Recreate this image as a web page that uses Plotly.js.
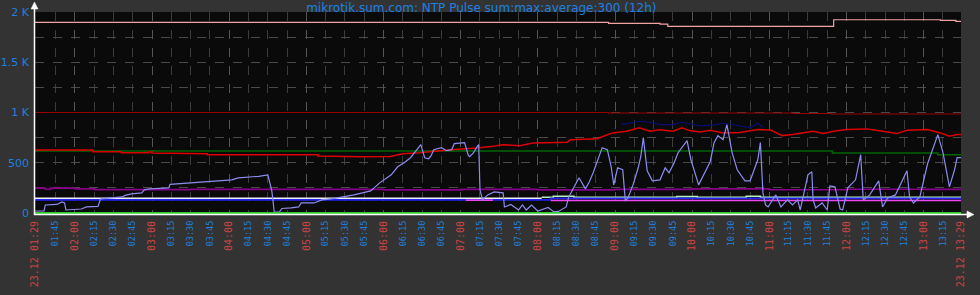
<!DOCTYPE html>
<html>
<head>
<meta charset="utf-8">
<script src="https://cdn.plot.ly/plotly-3.0.1.min.js"></script>
<style>html,body{margin:0;padding:0;background:#333333;}#chart{width:980px;height:295px;}</style>
</head>
<body>
<div id="chart"></div>
<script>
const day = "2023-12-23 ";

// ---- tick data ----
const quarterTicks = ["01:45","02:15","02:30","02:45","03:15","03:30","03:45","04:15","04:30","04:45","05:15","05:30","05:45","06:15","06:30","06:45","07:15","07:30","07:45","08:15","08:30","08:45","09:15","09:30","09:45","10:15","10:30","10:45","11:15","11:30","11:45","12:15","12:30","12:45","13:15"];
const hourTicks = ["01:29","02:00","03:00","04:00","05:00","06:00","07:00","08:00","09:00","10:00","11:00","12:00","13:00","13:29"];
const hourLabels = ["23.12 01:29","02:00","03:00","04:00","05:00","06:00","07:00","08:00","09:00","10:00","11:00","12:00","13:00","23.12 13:29"];
const yTicks = [0,250,500,750,1000,1250,1500,1750,2000];
const yLabels = ["0","","500","","1 K","","1.5 K","","2 K"];

// ---- series data ----
const pinkT = ["01:29","08:55","09:35","09:41","11:46","11:50","13:13","13:25","13:29"];
const pinkV = [1897,1887,1880,1857,1857,1923,1917,1907,1907];

const darkRedT = ["01:29","08:55","11:18","11:48","13:29"];
const darkRedV = [1000,995,990,985,985];

const navyT = ["09:05","09:12","09:19","09:27","09:35","09:45","09:52","10:06","10:16","10:24","10:37","10:45","10:51","10:55"];
const navyV = [880,897,913,903,880,880,903,867,875,893,870,850,893,850];

const redT = ["01:29","02:14","02:14","02:36","02:36","02:57","02:57","03:00","03:00","03:18","03:18","03:43","03:43","05:09","05:09","05:42","06:05","06:15","06:28","06:52","07:13","07:25","07:32","07:46","07:56","08:23","08:25","08:46","08:51","08:58","09:09","09:19","09:27","09:35","09:45","09:52","09:58","10:06","10:14","10:24","10:37","10:51","11:01","11:10","11:18","11:34","11:42","11:50","12:00","12:16","12:28","12:39","12:47","13:03","13:13","13:20","13:26","13:29"];
const redV = [627,627,610,610,600,600,608,608,597,597,590,590,580,580,567,560,563,590,600,630,647,663,680,670,697,703,730,740,763,797,813,847,813,829,813,847,820,805,823,797,800,830,825,770,780,813,790,813,830,837,813,790,823,830,797,763,780,780];

const greenT = ["01:29","11:49","13:11","13:29"];
const greenV = [617,597,580,580];

const purpleT = ["01:29","01:37","01:41","02:00","02:15","03:30","05:12","06:00","07:00","08:00","09:00","10:00","11:00","12:00","13:00","13:29"];
const purpleV = [247,237,247,240,233,235,235,230,235,230,235,240,232,236,235,232];

const whiteT = ["01:29","08:03"];
const whiteV = [147,147];

const lightGreenT = ["08:03","08:12","08:28","09:48","10:04","10:42","10:53","13:29"];
const lightGreenV = [157,167,157,163,157,167,157,157];

const blueT = ["01:29","08:10","13:29"];
const blueV = [130,145,145];

const magentaT = ["07:04","07:25","07:26","08:10","13:29"];
const magentaV = [127,127,null,125,125];

const pulseT = ["01:29","01:36","01:37","01:46","01:50","01:52","01:53","02:00","02:05","02:09","02:18","02:20","02:27","02:37","02:39","02:44","02:52","02:54","02:58","03:13","03:14","03:31","03:37","03:49","04:02","04:07","04:17","04:23","04:30","04:33","04:34","04:35","04:39","04:41","04:48","04:54","04:56","05:06","05:12","05:22","05:37","05:43","05:50","05:57","06:06","06:11","06:16","06:21","06:25","06:29","06:32","06:35","06:37","06:39","06:45","06:49","06:53","06:55","07:03","07:06","07:07","07:10","07:13","07:14","07:15","07:17","07:21","07:26","07:33","07:34","07:39","07:45","07:48","07:51","07:55","08:00","08:08","08:12","08:16","08:22","08:24","08:28","08:32","08:37","08:40","08:43","08:47","08:50","08:54","08:57","08:59","09:02","09:06","09:08","09:10","09:14","09:18","09:20","09:22","09:25","09:29","09:35","09:39","09:42","09:46","09:49","09:56","09:59","10:05","10:14","10:17","10:20","10:24","10:27","10:31","10:35","10:41","10:45","10:51","10:53","10:55","10:57","10:59","11:05","11:09","11:14","11:18","11:22","11:24","11:30","11:33","11:34","11:36","11:41","11:45","11:47","11:51","11:55","11:57","12:01","12:07","12:11","12:13","12:18","12:25","12:28","12:32","12:38","12:47","12:49","12:52","12:57","13:03","13:07","13:11","13:15","13:20","13:24","13:26","13:29"];
const pulseV = [20,20,80,85,110,100,30,35,40,60,65,140,150,160,175,190,200,230,240,250,285,300,310,320,330,350,360,365,380,230,130,10,10,45,50,60,100,100,130,145,180,200,220,300,380,460,500,550,620,680,550,540,570,630,650,620,630,690,700,570,560,600,665,680,230,130,180,210,200,60,85,30,80,30,80,20,55,15,15,60,160,260,350,240,310,400,550,650,630,460,280,450,430,120,150,280,450,560,750,420,320,330,450,400,500,600,720,530,280,510,700,770,730,880,600,430,320,320,530,700,200,80,60,180,60,130,80,130,30,380,410,130,50,100,30,270,260,40,30,250,330,580,130,180,320,60,150,180,420,160,100,160,490,630,780,600,260,430,550,550];

const zeroT = ["01:29","13:29"];
const zeroV = [0,0];

const titleText = "mikrotik.sum.com: NTP Pulse sum:max:average:300 (12h)";

// ---- build ----
const d = a => a.map(t => day + t);
function tr(t, v, color, width, shape, xa) {
  return {x: d(t), y: v, type: "scatter", mode: "lines", xaxis: xa || "x",
    line: {color: color, width: width, shape: shape || "linear"}, hoverinfo: "skip", connectgaps: false};
}
const traces = [
  tr(zeroT, zeroV, "#33cc33", 2, "hv", "x2"),
  tr(purpleT, purpleV, "#880088", 1.6, "hv"),
  tr(greenT, greenV, "#006600", 1.6, "hv"),
  tr(darkRedT, darkRedV, "#990000", 1.2, "hv"),
  tr(pinkT, pinkV, "#f2a2a2", 1.2, "hv"),
  tr(navyT, navyV, "#0c0c78", 1.2),
  tr(redT, redV, "#dd0000", 1.5),
  tr(whiteT, whiteV, "#eeeeee", 1.6, "hv"),
  tr(lightGreenT, lightGreenV, "#b8f0b8", 1.6, "hv"),
  tr(blueT, blueV, "#2222ee", 1.8, "hv"),
  tr(magentaT, magentaV, "#ee44ee", 1.6, "hv"),
  tr(pulseT, pulseV, "#8c8cf0", 1.2)
];

const PX0 = 35, PW = 926, PY0 = 12, PH = 202;
const px = x => (x - PX0) / PW;
const py = y => (PY0 + PH - y) / PH;
const range = [day + hourTicks[0], day + hourTicks[hourTicks.length - 1]];

const layout = {
  width: 980, height: 295,
  margin: {l: PX0, r: 980 - PX0 - PW, t: PY0, b: 295 - PY0 - PH, pad: 0},
  paper_bgcolor: "#333333", plot_bgcolor: "#0a0a0a",
  showlegend: false,
  title: {text: titleText, x: 0.482, xanchor: "center", xref: "paper", y: 0.974, yref: "container", yanchor: "middle",
    font: {family: "DejaVu Sans", size: 12, color: "#1e80e0"}},
  xaxis: {type: "date", range: range, tickvals: d(quarterTicks), ticktext: quarterTicks,
    tickangle: -90, ticks: "", ticklabelstandoff: 4,
    tickfont: {family: "DejaVu Sans Mono", size: 8.5, color: "#2080dd"},
    showgrid: true, gridcolor: "#3c3c3c", griddash: "dash", gridwidth: 1,
    zeroline: false, showline: false, fixedrange: true},
  xaxis2: {type: "date", range: range, overlaying: "x", anchor: "y", side: "bottom",
    tickvals: d(hourTicks), ticktext: hourLabels,
    tickangle: -90, ticks: "", ticklabelstandoff: 4,
    tickfont: {family: "DejaVu Sans Mono", size: 10, color: "#cc4444"},
    showgrid: true, gridcolor: "#555555", griddash: "dash", gridwidth: 1,
    zeroline: false, showline: false, fixedrange: true},
  yaxis: {range: [-10, 2000], tickvals: yTicks, ticktext: yLabels, ticks: "",
    ticklabelstandoff: 5,
    tickfont: {family: "DejaVu Sans", size: 11, color: "#2080dd"},
    showgrid: true, gridcolor: "#4a4a4a", griddash: "dash", gridwidth: 1,
    zeroline: false, showline: false, fixedrange: true},
  shapes: [
    {type: "line", xref: "paper", yref: "paper", x0: px(34.5), x1: px(34.5), y0: py(215), y1: py(7),
      line: {color: "#ffffff", width: 1.5}},
    {type: "path", xref: "paper", yref: "paper",
      path: `M ${px(31)} ${py(9)} L ${px(38)} ${py(9)} L ${px(34.5)} ${py(2)} Z`,
      fillcolor: "#ffffff", line: {color: "#ffffff", width: 0.5}},
    {type: "line", xref: "paper", yref: "paper", x0: px(34), x1: px(969), y0: py(214.6), y1: py(214.6),
      line: {color: "#ffffff", width: 1.5}},
    {type: "path", xref: "paper", yref: "paper",
      path: `M ${px(967)} ${py(211)} L ${px(967)} ${py(218)} L ${px(974)} ${py(214.6)} Z`,
      fillcolor: "#ffffff", line: {color: "#ffffff", width: 0.5}}
  ]
};

Plotly.newPlot("chart", traces, layout, {staticPlot: true, displayModeBar: false});
</script>
</body>
</html>
